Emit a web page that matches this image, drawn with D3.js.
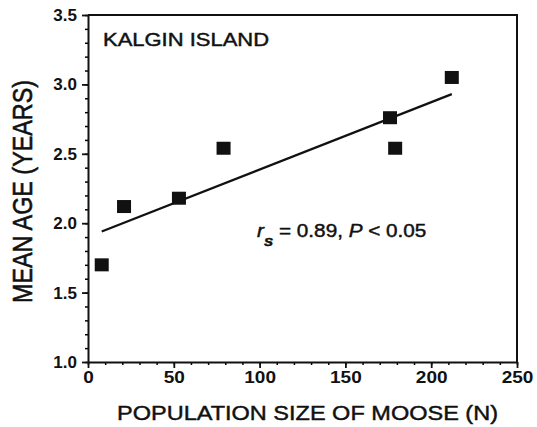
<!DOCTYPE html>
<html>
<head>
<meta charset="utf-8">
<script src="https://cdn.jsdelivr.net/npm/d3@7"></script>
<style>
	body { margin: 0; background: #fff; }
	text { font-family: "Liberation Sans", Arial, sans-serif; fill: #111; }
	.heavy { stroke: #111; stroke-width: 0.45px; }
</style>
</head>
<body>
<script>
var popSize = [8, 21, 53, 79, 176, 179, 212];
var meanAge = [1.70, 2.12, 2.18, 2.54, 2.76, 2.54, 3.05];

var fitPop = [8, 212]; // ends of the fitted line
var fitAge = [1.94, 2.93];

var xTicks = [0, 50, 100, 150, 200, 250];
var yTicks = [1.0, 1.5, 2.0, 2.5, 3.0, 3.5];

var width = 537,
	height = 427;

var plotL = 88, plotR = 517, plotT = 15, plotB = 362;

var svg = d3.select('body').append('svg')
	.attr('width', width)
	.attr('height', height);

var x = d3.scaleLinear().domain([0, 250]).range([plotL, plotR]);
var y = d3.scaleLinear().domain([1, 3.5]).range([plotB, plotT]);

// frame: top and right sides
svg.append('path')
	.attr('d', 'M' + plotL + ',' + plotT + 'H' + plotR + 'V' + plotB)
	.attr('fill', 'none')
	.attr('stroke', '#111')
	.attr('stroke-width', 2);

// minor ticks first, then the labelled axes over them
svg.append('g')
	.attr('transform', 'translate(0,' + plotB + ')')
	.call(d3.axisBottom(x).tickValues(d3.range(0, 251, 10)).tickSize(3).tickFormat(''))
	.call(function(g) { g.select('.domain').remove(); })
	.selectAll('line').attr('stroke-width', 1.5);

svg.append('g')
	.attr('transform', 'translate(' + plotL + ',0)')
	.call(d3.axisLeft(y).tickValues(d3.range(10, 36).map(function(d) { return d / 10; })).tickSize(3).tickFormat(''))
	.call(function(g) { g.select('.domain').remove(); })
	.selectAll('line').attr('stroke-width', 1.5);

var xAxis = svg.append('g')
	.attr('transform', 'translate(0,' + plotB + ')')
	.call(d3.axisBottom(x).tickValues(xTicks).tickSize(6).tickSizeOuter(0).tickPadding(3));

var yAxis = svg.append('g')
	.attr('transform', 'translate(' + plotL + ',0)')
	.call(d3.axisLeft(y).tickValues(yTicks).tickFormat(d3.format('.1f')).tickSize(6).tickSizeOuter(0).tickPadding(5));

[xAxis, yAxis].forEach(function(g) {
	g.select('.domain').attr('stroke', '#111').attr('stroke-width', 2);
	g.selectAll('line').attr('stroke', '#111').attr('stroke-width', 1.8);
	g.selectAll('text')
		.style('font-family', '"Liberation Sans", Arial, sans-serif')
		.style('font-size', '17px')
		.style('font-weight', 'bold')
		.attr('fill', '#111');
});
xAxis.selectAll('text').attr('transform', 'scale(1.12,1)');

// fitted line
svg.append('line')
	.attr('x1', x(fitPop[0])).attr('y1', y(fitAge[0]))
	.attr('x2', x(fitPop[1])).attr('y2', y(fitAge[1]))
	.attr('stroke', '#111')
	.attr('stroke-width', 2.2);

var pts = popSize.map(function(d, i) { return { n: d, age: meanAge[i] }; });

svg.append('g').selectAll('rect')
	.data(pts)
	.enter().append('rect')
		.attr('x', function(d) { return x(d.n) - 7; })
		.attr('y', function(d) { return y(d.age) - 6.5; })
		.attr('width', 14)
		.attr('height', 13)
		.attr('fill', '#111');

svg.append('text')
	.attr('class', 'heavy')
	.attr('x', 103).attr('y', 46)
	.attr('font-size', 18.5)
	.attr('textLength', 166)
	.attr('lengthAdjust', 'spacingAndGlyphs')
	.text('KALGIN ISLAND');

var stat = svg.append('text')
	.attr('class', 'heavy')
	.attr('transform', 'translate(257,237) scale(1.12,1)')
	.attr('font-size', 18.5);
stat.append('tspan').attr('font-style', 'italic').text('r');
stat.append('tspan').attr('font-style', 'italic').attr('font-weight', 'bold').attr('font-size', 15).attr('dy', 9).text('s');
stat.append('tspan').attr('dy', -9).text(' = 0.89, ');
stat.append('tspan').attr('font-style', 'italic').text('P');
stat.append('tspan').text(' < 0.05');

svg.append('text')
	.attr('class', 'heavy')
	.attr('x', 117).attr('y', 420)
	.attr('font-size', 20.5)
	.attr('textLength', 381)
	.attr('lengthAdjust', 'spacingAndGlyphs')
	.text('POPULATION SIZE OF MOOSE (N)');

svg.append('text')
	.attr('class', 'heavy')
	.attr('transform', 'translate(32,303) scale(1.3,1) rotate(-90)')
	.attr('font-size', 21)
	.attr('textLength', 223)
	.attr('lengthAdjust', 'spacingAndGlyphs')
	.text('MEAN AGE (YEARS)');
</script>
</body>
</html>
